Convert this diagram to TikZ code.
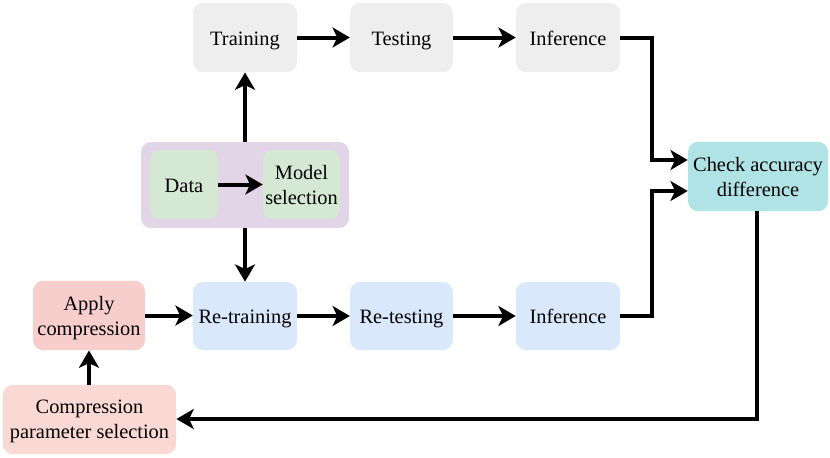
\documentclass[tikz,border=0pt]{standalone}
\usepackage{fontspec}
\setmainfont{Liberation Serif}
\usetikzlibrary{arrows.meta}
\definecolor{cgray}{HTML}{EEEEEE}
\definecolor{cpurple}{HTML}{E1D5E7}
\definecolor{cgreen}{HTML}{D5E8D4}
\definecolor{ccyan}{HTML}{B0E3E6}
\definecolor{cblue}{HTML}{DAE8FC}
\definecolor{cred}{HTML}{F8CECC}
\definecolor{cpink}{HTML}{FAD9D5}
\tikzset{
  box/.style={rectangle, rounded corners=7.5pt, draw=none, align=center, inner sep=0pt,
    font=\fontsize{15.3}{18.7}\selectfont, text=black, text depth=0pt},
  one/.style={text height=11.5pt},
  arr/.style={line width=3pt, -{Stealth[length=13pt,width=15pt,inset=3.5pt]}},
}
\begin{document}
\begin{tikzpicture}[x=0.75pt,y=-0.75pt]
\useasboundingbox (0,0) rectangle (830,457);
% top row
\node[box, one, fill=cgray, minimum width=78pt, minimum height=52pt] (train) at (245,37.5) {Training};
\node[box, one, fill=cgray, minimum width=77pt, minimum height=52pt] (test) at (401.5,37.5) {Testing};
\node[box, one, fill=cgray, minimum width=78pt, minimum height=52pt] (inf1) at (568,37.5) {Inference};
% container
\node[box, fill=cpurple, minimum width=156pt, minimum height=64.5pt] (cont) at (245,185) {};
\node[box, one, fill=cgreen, minimum width=51pt, minimum height=52pt] (data) at (184,184.5) {Data};
\node[box, fill=cgreen, minimum width=57.75pt, minimum height=52pt] (model) at (301.5,184.5) {Model\\selection};
% check
\node[box, fill=ccyan, minimum width=105pt, minimum height=52pt] (check) at (758,176.5) {Check accuracy\\difference};
% bottom row
\node[box, fill=cred, minimum width=84pt, minimum height=52pt] (apply) at (89,315.5) {Apply\\compression};
\node[box, one, fill=cblue, minimum width=78pt, minimum height=51pt] (retrain) at (245,316) {Re-training};
\node[box, one, fill=cblue, minimum width=77pt, minimum height=51pt] (retest) at (401.5,316) {Re-testing};
\node[box, one, fill=cblue, minimum width=78pt, minimum height=51pt] (inf2) at (568,316) {Inference};
\node[box, fill=cpink, minimum width=130pt, minimum height=52pt] (param) at (89.5,419.5) {Compression\\parameter selection};
% helper coordinates
\coordinate (k1) at (652,160);
\coordinate (k2) at (652,191);
\coordinate (k3) at (757,419);
% arrows
\draw[arr] (train.east) -- (test.west);
\draw[arr] (test.east) -- (inf1.west);
\draw[arr] (data.east) -- (model.west);
\draw[arr] (cont.north) -- (train.south);
\draw[arr] (cont.south) -- (retrain.north);
\draw[arr] (apply.east) -- (retrain.west |- apply.east);
\draw[arr] (retrain.east) -- (retest.west);
\draw[arr] (retest.east) -- (inf2.west);
\draw[arr] (inf1.east) -| (k1) -- (check.west |- k1);
\draw[arr] (inf2.east) -| (k2) -- (check.west |- k2);
\draw[arr] (check.south -| k3) -- (k3) -- (param.east |- k3);
\draw[arr] (param.north -| apply.south) -- (apply.south);
\end{tikzpicture}
\end{document}
